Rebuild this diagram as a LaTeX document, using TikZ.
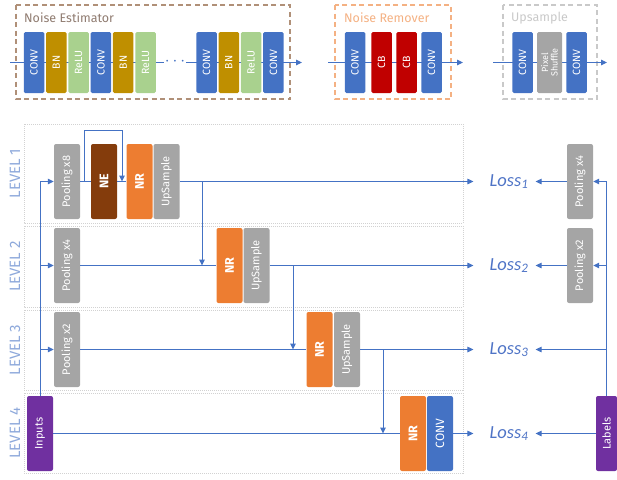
\documentclass[tikz,border=0pt]{standalone}
\usepackage{fontspec}
\setmainfont{Fira Sans}
\newfontfamily\lossfont{Carlito}
\usetikzlibrary{arrows.meta}
\definecolor{cline}{HTML}{4472C4}
\definecolor{cconv}{HTML}{4472C4}
\definecolor{cbn}{HTML}{BF8F00}
\definecolor{crelu}{HTML}{A9D18E}
\definecolor{ccb}{HTML}{C00000}
\definecolor{cgray}{HTML}{A5A5A5}
\definecolor{cne}{HTML}{843C0C}
\definecolor{cnr}{HTML}{ED7D31}
\definecolor{cpurple}{HTML}{7030A0}
\definecolor{clevel}{HTML}{8EA9DB}
\definecolor{closs}{HTML}{4F74C6}
\definecolor{cnebox}{HTML}{B09078}
\definecolor{cnetitle}{HTML}{8F7B70}
\definecolor{cnrbox}{HTML}{F4B183}
\definecolor{cupbox}{HTML}{C9C9C9}
\definecolor{cpanel}{HTML}{D2D2D2}
\begin{document}
\begin{tikzpicture}[x=1pt,y=-1pt,
  flow/.style={draw=cline, line width=1pt},
  arr/.style={flow, -{Triangle[length=6pt,width=5.5pt]}},
  tol/.style={arr, shorten >=16pt},
  tor/.style={arr, shorten >=7pt},
  tblk/.style={rectangle, rounded corners=1.5pt, rotate=90, minimum width=61pt,
    minimum height=20.5pt, inner sep=0pt, text=white, font=\fontsize{10.5}{11}\selectfont},
  lblk/.style={rectangle, rounded corners=2pt, rotate=90, minimum width=75pt,
    minimum height=26pt, inner sep=0pt, text=white, font=\fontsize{11}{12}\selectfont},
  bigblk/.style={lblk, font=\bfseries\fontsize{12.5}{13}\selectfont},
  group/.style={line width=1.3pt, dash pattern=on 5pt off 3.5pt},
  gtitle/.style={anchor=west, inner sep=0pt, font=\fontsize{12.5}{13}\selectfont},
  panel/.style={draw=cpanel, line width=0.8pt, dash pattern=on 1pt off 1pt},
  lvl/.style={rotate=90, text=clevel, inner sep=0pt, font=\fontsize{15}{15}\selectfont},
  loss/.style={inner sep=0pt, text=closs, font=\lossfont\itshape\fontsize{18.5}{19}\selectfont}
]
\useasboundingbox (0,0) rectangle (617,479);

% ---------- legend: building blocks ----------
\draw[group, draw=cnebox] (16,5) rectangle (290,99);
\node[gtitle, text=cnetitle] (tne) at (24,18) {Noise Estimator};
\draw[group, draw=cnrbox] (335,5) rectangle (451,99);
\node[gtitle, text=cnrbox] (tnr) at (344,18) {Noise Remover};
\draw[group, draw=cupbox] (503,5) rectangle (597,99);
\node[gtitle, text=cupbox] (tup) at (511,18) {Upsample};

\coordinate (nein) at (10,62.5);  \coordinate (neout) at (302,62.5);
\coordinate (nrin) at (328,62.5); \coordinate (nrout) at (463,62.5);
\coordinate (upin) at (493,62.5); \coordinate (upout) at (607,62.5);
\draw[arr] (nein) -- (neout);
\draw[arr] (nrin) -- (nrout);
\draw[arr] (upin) -- (upout);

\node[tblk, fill=cconv] (e1) at (34,62.5) {CONV};
\node[tblk, fill=cbn]   (e2) at (56.3,62.5) {BN};
\node[tblk, fill=crelu] (e3) at (78.6,62.5) {ReLU};
\node[tblk, fill=cconv] (e4) at (100.9,62.5) {CONV};
\node[tblk, fill=cbn]   (e5) at (123.2,62.5) {BN};
\node[tblk, fill=crelu] (e6) at (145.5,62.5) {ReLU};
\node[text=cconv, font=\bfseries\fontsize{18}{18}\selectfont, fill=white, inner sep=1pt] (dots) at (175,61.5) {$\cdots$};
\node[tblk, fill=cconv] (e7) at (206.5,62.5) {CONV};
\node[tblk, fill=cbn]   (e8) at (228.8,62.5) {BN};
\node[tblk, fill=crelu] (e9) at (251.1,62.5) {ReLU};
\node[tblk, fill=cconv] (e10) at (273.4,62.5) {CONV};

\node[tblk, fill=cconv] (r1) at (355,62.5) {CONV};
\node[tblk, fill=ccb]   (r2) at (381.5,62.5) {CB};
\node[tblk, fill=ccb]   (r3) at (406.5,62.5) {CB};
\node[tblk, fill=cconv] (r4) at (431.5,62.5) {CONV};

\node[tblk, fill=cconv] (u1) at (522.5,62.5) {CONV};
\node[tblk, fill=cgray, minimum height=25pt, align=center,
  font=\fontsize{9}{9.5}\selectfont] (u2) at (549.5,62.5) {Pixel\\Shuffle};
\node[tblk, fill=cconv] (u3) at (576.5,62.5) {CONV};

% ---------- level panels ----------
\draw[panel] (24,124) rectangle (463,223);
\draw[panel] (24,226) rectangle (463,307);
\draw[panel] (24,310) rectangle (463,390);
\draw[panel] (24,393) rectangle (463,473);
\node[lvl] (lv1) at (15,173.5) {LEVEL 1};
\node[lvl] (lv2) at (15,266.5) {LEVEL 2};
\node[lvl] (lv3) at (15,350) {LEVEL 3};
\node[lvl] (lv4) at (15,433) {LEVEL 4};

% ---------- network blocks ----------
\node[lblk, fill=cgray] (p8)  at (67,181.5) {Pooling x8};
\node[bigblk, fill=cne] (ne) at (104,181.5) {NE};
\node[bigblk, fill=cnr] (nr1) at (139.5,181.5) {NR};
\node[lblk, fill=cgray] (us1) at (166.5,181.5) {UpSample};

\node[lblk, fill=cgray] (p4)  at (67,265.5) {Pooling x4};
\node[bigblk, fill=cnr] (nr2) at (229.5,265.5) {NR};
\node[lblk, fill=cgray] (us2) at (256.5,265.5) {UpSample};

\node[lblk, fill=cgray] (p2)  at (67,349.5) {Pooling x2};
\node[bigblk, fill=cnr] (nr3) at (319.5,349.5) {NR};
\node[lblk, fill=cgray] (us3) at (347,349.5) {UpSample};

\node[lblk, fill=cpurple] (inp) at (40,433.5) {Inputs};
\node[bigblk, fill=cnr] (nr4) at (413,433.5) {NR};
\node[lblk, fill=cconv, font=\fontsize{12}{12}\selectfont] (cv4) at (440,433.5) {CONV};

\node[lblk, fill=cgray] (q4)  at (580,181.5) {Pooling x4};
\node[lblk, fill=cgray] (q2)  at (580,265.5) {Pooling x2};
\node[lblk, fill=cpurple, minimum height=21pt] (lab) at (606.5,433.5) {Labels};

\node[loss] (l1) at (509,181.5) {Loss\textsubscript{1}};
\node[loss] (l2) at (509,265.5) {Loss\textsubscript{2}};
\node[loss] (l3) at (509,349.5) {Loss\textsubscript{3}};
\node[loss] (l4) at (509,433.5) {Loss\textsubscript{4}};

% ---------- connectors ----------
% level 1
\draw[arr] (inp) |- (p8);
\draw[flow] (p8) -- (ne);
\draw[flow] (ne) -- (nr1);
\coordinate (s1) at (84,181.5);
\coordinate (s2) at (122,181.5);
\draw[arr] (s1) -- ++(0,-51.5) -| (s2);
\draw[tol] (us1) -- (l1);
\coordinate (d1) at (202,181.5);
\draw[arr] (d1) -- (d1 |- nr2);
% level 2
\draw[arr] (p4 -| inp) -- (p4);
\draw[flow] (p4) -- (nr2);
\draw[tol] (us2) -- (l2);
\coordinate (d2) at (293,265.5);
\draw[arr] (d2) -- (d2 |- nr3);
% level 3
\draw[arr] (p2 -| inp) -- (p2);
\draw[flow] (p2) -- (nr3);
\draw[tol] (us3) -- (l3);
\coordinate (d3) at (383,349.5);
\draw[arr] (d3) -- (d3 |- nr4);
% level 4
\draw[flow] (inp) -- (nr4);
\draw[tol] (cv4) -- (l4);
% labels side
\draw[arr] (lab) |- (q4);
\draw[arr] (q2 -| lab) -- (q2);
\draw[tor] (l3 -| lab) -- (l3);
\draw[tor] (lab) -- (l4);
\draw[tor] (q4) -- (l1);
\draw[tor] (q2) -- (l2);
\end{tikzpicture}
\end{document}
